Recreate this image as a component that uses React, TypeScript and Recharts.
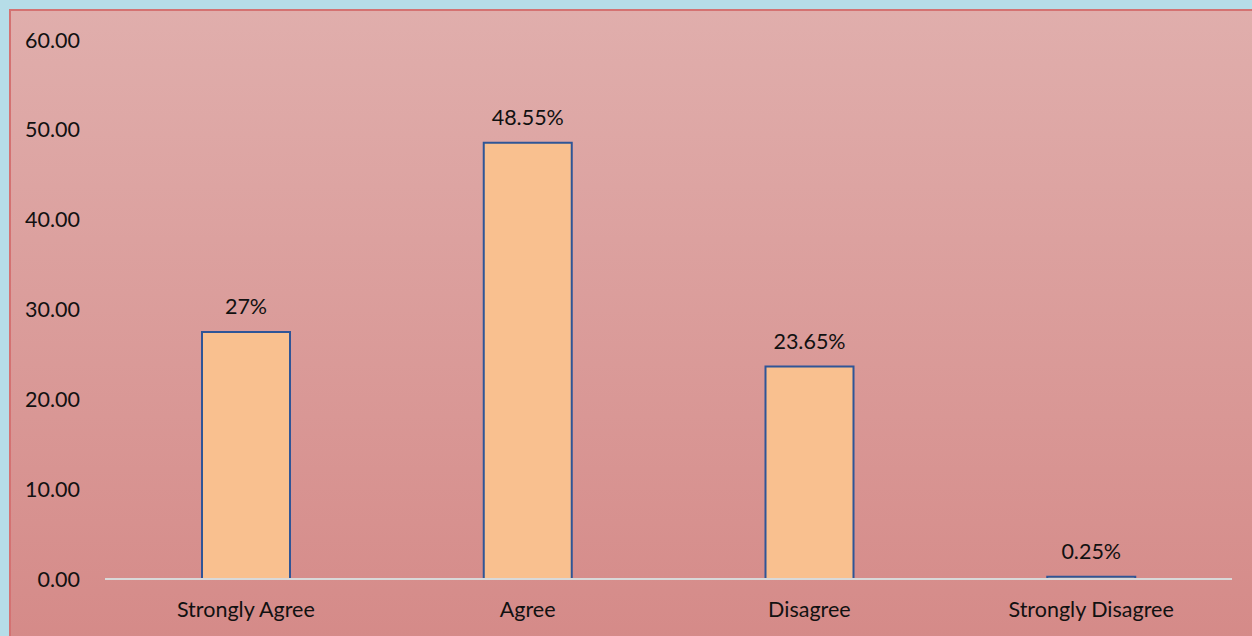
import React from "react";
import { BarChart, Bar, XAxis, YAxis, LabelList } from "recharts";

const categories = ["Strongly Agree", "Agree", "Disagree", "Strongly Disagree"];
const values = [27.5, 48.55, 23.65, 0.25];
const valueLabels = ["27%", "48.55%", "23.65%", "0.25%"];
const yTicks = [0, 10, 20, 30, 40, 50, 60];

const data = categories.map((c, i) => ({ name: c, value: values[i], label: valueLabels[i] }));

const FONT = "Lato, 'Open Sans', sans-serif";
const FS = 21.5;

export default function App() {
  return (
    <div
      style={{
        position: "fixed",
        left: 0,
        top: 0,
        width: 1252,
        height: 636,
        background: "#B6DDE8",
        overflow: "hidden",
      }}
    >
      <div
        style={{
          position: "absolute",
          left: 9,
          top: 9,
          width: 1250,
          height: 634,
          borderLeft: "2px solid #D47272",
          borderTop: "2px solid #D47272",
          background: "linear-gradient(to bottom, #E0AEAC 0%, #D58A88 100%)",
        }}
      >
        <div style={{ position: "absolute", left: -2, top: -2 }}>
          <BarChart
            width={1243}
            height={627}
            data={data}
            margin={{ top: 31, right: 20, left: 0, bottom: 0 }}
            barCategoryGap="34%"
          >
            <YAxis
              width={96}
              domain={[0, 60]}
              ticks={yTicks}
              tickFormatter={(v: number) => v.toFixed(2)}
              axisLine={false}
              tickLine={false}
              tickSize={0}
              tickMargin={25}
              tick={{ fill: "#111111", fontSize: FS, fontFamily: FONT }}
              interval={0}
            />
            <XAxis
              dataKey="name"
              height={57}
              axisLine={{ stroke: "#D9D9D9", strokeWidth: 2 }}
              tickLine={false}
              tickSize={0}
              tickMargin={23}
              tick={{ fill: "#111111", fontSize: FS, fontFamily: FONT }}
              interval={0}
            />
            <Bar
              dataKey="value"
              fill="#F9C08F"
              stroke="#2F5597"
              strokeWidth={2}
              barSize={88}
              isAnimationActive={false}
            >
              <LabelList
                dataKey="label"
                position="top"
                offset={18}
                style={{ fill: "#111111", fontSize: FS, fontFamily: FONT }}
              />
            </Bar>
          </BarChart>
        </div>
      </div>
    </div>
  );
}
